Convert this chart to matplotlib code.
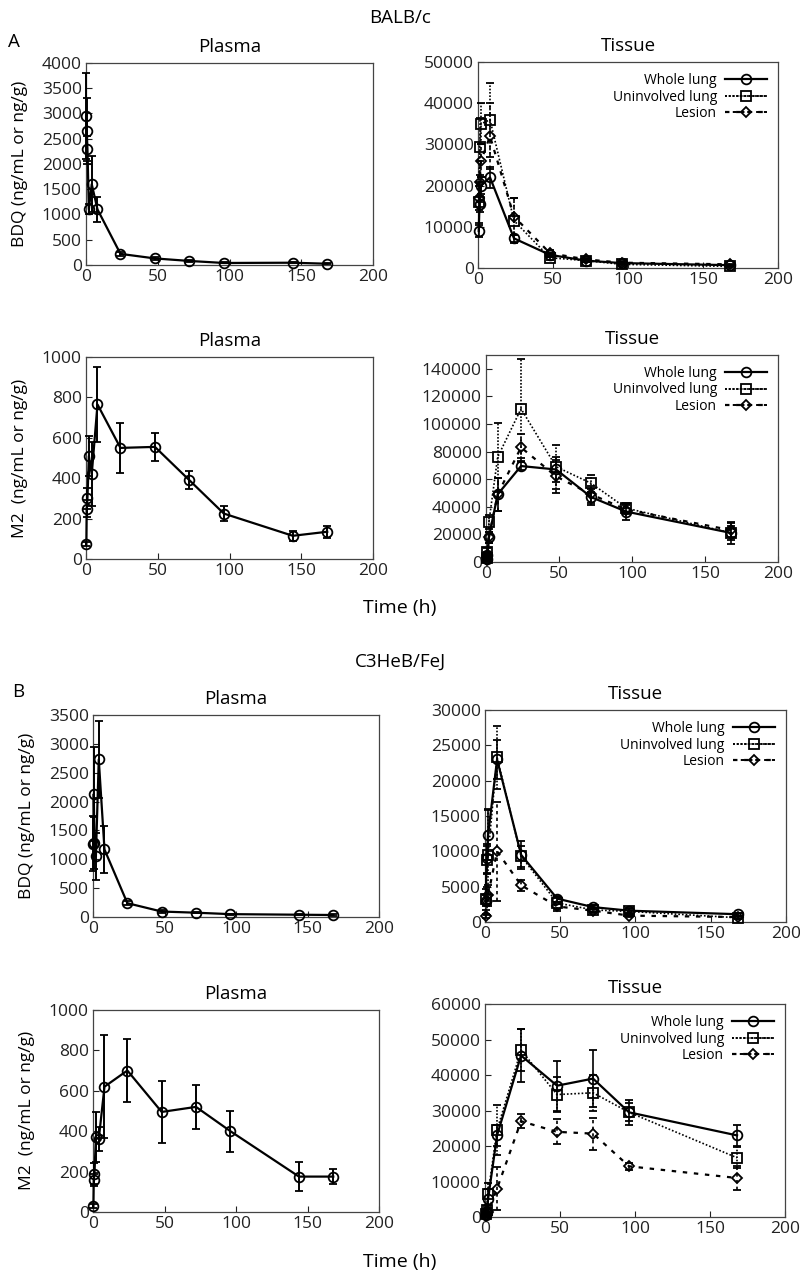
import matplotlib
matplotlib.use('Agg')
import matplotlib.pyplot as plt
from matplotlib.container import ErrorbarContainer
from matplotlib.legend_handler import HandlerErrorbar

plt.rcParams['font.family'] = ['Open Sans', 'DejaVu Sans']

### Data

# time points (h)
t_plasma = [0.25, 0.5, 1, 2, 4, 8, 24, 48, 72, 96, 144, 168]
t_tissue = [0.5, 1, 2, 8, 24, 48, 72, 96, 168]
series_names = ['Whole lung', 'Uninvolved lung', 'Lesion']

# BALB/c
balb_bdq_plasma = [2950, 2650, 2300, 1100, 1600, 1100, 220, 130, 80, 40, 45, 25]
balb_bdq_plasma_err = [850, 650, 250, 100, 550, 250, 40, 30, 20, 10, 15, 10]
balb_m2_plasma = [75, 250, 300, 510, 420, 765, 550, 555, 390, 225, 115, 135]
balb_m2_plasma_err = [10, 40, 50, 100, 160, 185, 125, 70, 45, 35, 25, 30]

balb_bdq_whole = [9000, 15500, 20000, 22000, 7200, 3200, 1800, 1200, 700]
balb_bdq_whole_err = [1500, 2000, 2000, 2500, 800, 500, 300, 200, 150]
balb_bdq_uninv = [16000, 29500, 35000, 36000, 11500, 2500, 1800, 900, 400]
balb_bdq_uninv_err = [5000, 7000, 5000, 9000, 5500, 600, 400, 300, 200]
balb_bdq_lesion = [17000, 21000, 26000, 32000, 12500, 3600, 2100, 1300, 900]
balb_bdq_lesion_err = [3000, 5000, 4000, 8000, 4500, 800, 400, 300, 200]

balb_m2_whole = [2000, 5000, 18000, 49000, 69500, 67000, 47000, 36500, 21000]
balb_m2_whole_err = [1000, 2000, 4000, 12000, 3000, 9000, 6000, 6000, 8000]
balb_m2_uninv = [3000, 7000, 29000, 76000, 111000, 69000, 57000, 39000, 21000]
balb_m2_uninv_err = [2000, 3000, 5000, 25000, 36000, 16000, 6000, 3000, 5000]
balb_m2_lesion = [1500, 4000, 18000, 49000, 83000, 62000, 49000, 38000, 23000]
balb_m2_lesion_err = [1000, 2000, 4000, 12000, 10000, 12000, 6000, 3000, 5000]

# C3HeB/FeJ
c3_bdq_plasma = [1270, 2130, 1290, 1050, 2730, 1170, 240, 95, 75, 50, 40, 35]
c3_bdq_plasma_err = [480, 820, 450, 400, 670, 410, 30, 20, 10, 10, 10, 10]
c3_m2_plasma = [30, 160, 190, 370, 360, 620, 700, 495, 520, 400, 175, 175]
c3_m2_plasma_err = [10, 30, 50, 125, 60, 255, 158, 152, 108, 102, 70, 38]

c3_bdq_whole = [3000, 9000, 12300, 23000, 9500, 3300, 2100, 1600, 1100]
c3_bdq_whole_err = [800, 2000, 3500, 2800, 2000, 400, 300, 300, 200]
c3_bdq_uninv = [3200, 8800, 9500, 23300, 9300, 2700, 1700, 1500, 600]
c3_bdq_uninv_err = [1500, 2000, 6500, 4500, 1500, 800, 300, 500, 200]
c3_bdq_lesion = [800, 3000, 3800, 10000, 5200, 2200, 1600, 900, 700]
c3_bdq_lesion_err = [300, 2000, 1500, 7000, 800, 600, 300, 200, 200]

c3_m2_whole = [500, 1500, 5000, 23000, 45500, 37000, 39000, 29500, 23000]
c3_m2_whole_err = [500, 1000, 3000, 3000, 7500, 7000, 8000, 3500, 3000]
c3_m2_uninv = [1000, 2000, 6500, 24500, 47000, 34500, 35000, 29500, 16700]
c3_m2_uninv_err = [500, 1000, 3000, 7000, 6000, 5000, 5000, 2500, 3000]
c3_m2_lesion = [200, 500, 1500, 8000, 27000, 24000, 23500, 14300, 11000]
c3_m2_lesion_err = [200, 400, 1000, 6000, 2000, 3500, 4500, 1000, 3500]

### Styles

tissue_styles = [
    dict(marker='o', ls='-', lw=1.6, ms=7),
    dict(marker='s', ls=(0, (1, 1.2)), lw=1.2, ms=7),
    dict(marker='D', ls=(0, (2, 3)), lw=1.6, ms=5),
]
bar_styles = ['-', (0, (1, 1)), (0, (2, 2))]


def style_axes(ax, ymax, ystep, title):
    ax.set_xlim(0, 200)
    ax.set_ylim(0, ymax)
    ax.set_xticks(range(0, 201, 50))
    ax.set_yticks(range(0, ymax + 1, ystep))
    ax.tick_params(direction='in', length=4, labelsize=12.5, width=0.8, colors='#222', pad=3)
    for s in ax.spines.values():
        s.set_color('#444')
        s.set_linewidth(0.9)
    ax.set_title(title, fontsize=13.5, pad=8)


def plot_plasma(ax, y, err, ymax, ystep, ylabel):
    ax.errorbar(t_plasma, y, yerr=err, color='black', marker='o', markersize=7,
                markerfacecolor='none', markeredgewidth=1.3, linewidth=1.6,
                capsize=3, elinewidth=1.4, capthick=1.4, clip_on=False, zorder=3)
    style_axes(ax, ymax, ystep, 'Plasma')
    ax.set_ylabel(ylabel, fontsize=12.5, labelpad=10)


def plot_tissue(ax, ys, errs, ymax, ystep):
    handles = []
    for name, y, err, st, bs in zip(series_names, ys, errs, tissue_styles, bar_styles):
        eb = ax.errorbar(t_tissue, y, yerr=err, color='black', marker=st['marker'],
                         markersize=st['ms'], linestyle=st['ls'], linewidth=st['lw'],
                         markerfacecolor='none', markeredgewidth=1.3, capsize=3,
                         elinewidth=1.2, capthick=1.2, clip_on=False, zorder=3)
        eb[2][0].set_linestyle(bs)
        # legend proxy drawn with horizontal bar and end caps
        px = ax.errorbar([], [], xerr=[], color='black', marker=st['marker'],
                         markersize=st['ms'], linestyle=st['ls'], linewidth=st['lw'],
                         markerfacecolor='none', markeredgewidth=1.3, capsize=3,
                         elinewidth=1.4, capthick=1.4, label=name)
        px[2][0].set_linestyle(bs)
        handles.append(px)
    style_axes(ax, ymax, ystep, 'Tissue')
    ax.legend(handles=handles, loc='upper right', frameon=False, markerfirst=False,
              fontsize=10, handlelength=3.0, borderaxespad=0.4, labelspacing=0.1,
              handletextpad=0.6,
              handler_map={ErrorbarContainer: HandlerErrorbar(xerr_size=1.5, numpoints=1)})


fig = plt.figure(figsize=(8, 12.74), dpi=100)

ax1 = fig.add_axes([0.1075, 0.792, 0.359, 0.1586])
plot_plasma(ax1, balb_bdq_plasma, balb_bdq_plasma_err, 4000, 500, 'BDQ (ng/mL or ng/g)')
ax2 = fig.add_axes([0.5975, 0.7896, 0.375, 0.1617])
plot_tissue(ax2, [balb_bdq_whole, balb_bdq_uninv, balb_bdq_lesion],
            [balb_bdq_whole_err, balb_bdq_uninv_err, balb_bdq_lesion_err], 50000, 10000)

ax3 = fig.add_axes([0.1075, 0.5612, 0.359, 0.1586])
plot_plasma(ax3, balb_m2_plasma, balb_m2_plasma_err, 1000, 200, 'M2  (ng/mL or ng/g)')
ax4 = fig.add_axes([0.6075, 0.5589, 0.365, 0.1625])
plot_tissue(ax4, [balb_m2_whole, balb_m2_uninv, balb_m2_lesion],
            [balb_m2_whole_err, balb_m2_uninv_err, balb_m2_lesion_err], 140000, 20000)
ax4.set_ylim(0, 150000)

ax5 = fig.add_axes([0.1163, 0.2802, 0.3575, 0.1586])
plot_plasma(ax5, c3_bdq_plasma, c3_bdq_plasma_err, 3500, 500, 'BDQ (ng/mL or ng/g)')
ax6 = fig.add_axes([0.6063, 0.2763, 0.376, 0.1664])
plot_tissue(ax6, [c3_bdq_whole, c3_bdq_uninv, c3_bdq_lesion],
            [c3_bdq_whole_err, c3_bdq_uninv_err, c3_bdq_lesion_err], 30000, 5000)

ax7 = fig.add_axes([0.1163, 0.0487, 0.3575, 0.1586])
plot_plasma(ax7, c3_m2_plasma, c3_m2_plasma_err, 1000, 200, 'M2  (ng/mL or ng/g)')
ax8 = fig.add_axes([0.6063, 0.0447, 0.375, 0.1672])
plot_tissue(ax8, [c3_m2_whole, c3_m2_uninv, c3_m2_lesion],
            [c3_m2_whole_err, c3_m2_uninv_err, c3_m2_lesion_err], 60000, 10000)

# panel labels and headings
fig.text(0.5, 1 - 18 / 1274, 'BALB/c', ha='center', va='center', fontsize=13.5)
fig.text(0.01, 1 - 42 / 1274, 'A', ha='left', va='center', fontsize=13.5)
fig.text(0.5, 1 - 608 / 1274, 'Time (h)', ha='center', va='center', fontsize=14)
fig.text(0.5, 1 - 662 / 1274, 'C3HeB/FeJ', ha='center', va='center', fontsize=13.5)
fig.text(0.015, 1 - 692 / 1274, 'B', ha='left', va='center', fontsize=13.5)
fig.text(0.5, 1 - 1262 / 1274, 'Time (h)', ha='center', va='center', fontsize=14)

fig.savefig('out.png', dpi=100)
